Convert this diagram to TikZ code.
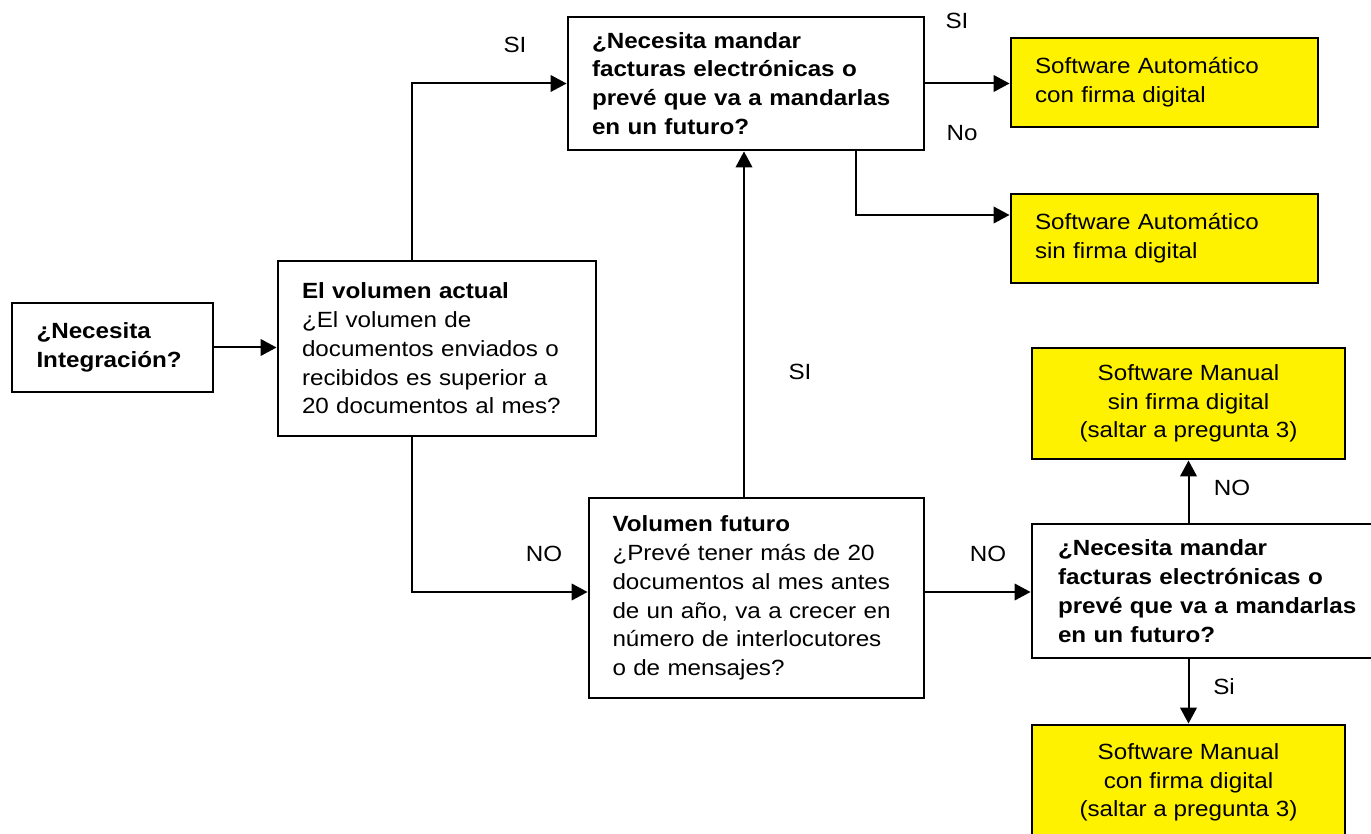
\documentclass[tikz,border=0pt]{standalone}
\usepackage{fontspec}
\setmainfont{Liberation Sans}[FakeStretch=1.1]
\usetikzlibrary{arrows.meta}

\begin{document}
\begin{tikzpicture}[x=0.75pt,y=0.75pt,yscale=-1,xscale=1,
  box/.style={draw,line width=2.2pt,inner sep=0pt,align=left,font=\fontsize{16.5}{21.6}\selectfont},
  qbox/.style={box,font=\fontsize{16.5}{21.6}\selectfont\bfseries},
  res/.style={box,fill=yellow},
  soft/.style={box,fill=yellow,align=center},
  lbl/.style={inner sep=0pt,font=\fontsize{16.5}{20}\selectfont},
  arr/.style={line width=1.5pt,-{Triangle[length=12pt,width=12.5pt]}}]
\useasboundingbox (0,0) rectangle (1371,834);

% columns and rows of the elbow connectors
\coordinate (colB) at (412,0);
\coordinate (colF) at (744,0);
\coordinate (colC) at (856,0);
\coordinate (rowE) at (0,215);
\coordinate (rowF) at (0,592);

\node[qbox,minimum width=150.75pt,minimum height=66.75pt,text width=114pt] (integ) at (112.5,347.5) {¿Necesita\\Integración?};
\node[box,minimum width=238.5pt,minimum height=131.25pt,text width=202.5pt] (vact) at (437,348.5) {\textbf{El volumen actual}\\¿El volumen de\\documentos enviados o\\recibidos es superior a\\20 documentos al mes?};
\node[qbox,minimum width=267pt,minimum height=99.75pt,text width=231pt] (firma1) at (746,83.5) {¿Necesita mandar\\facturas electrónicas o\\prevé que va a mandarlas\\en un futuro?};
\node[res,minimum width=230.25pt,minimum height=66.75pt,text width=194.25pt] (autocon) at (1164.5,82.5) {Software Automático\\con firma digital};
\node[res,minimum width=230.25pt,minimum height=66.75pt,text width=194.25pt] (autosin) at (1164.5,238.5) {Software Automático\\sin firma digital};
\node[box,minimum width=251.25pt,minimum height=150pt,text width=216pt] (vfut) at (756.5,598) {\textbf{Volumen futuro}\\¿Prevé tener más de 20\\documentos al mes antes\\de un año, va a crecer en\\número de interlocutores\\o de mensajes?};
\node[qbox,minimum width=270pt,minimum height=100.5pt,text width=231pt] (firma2) at (1212,591) {¿Necesita mandar\\facturas electrónicas o\\prevé que va a mandarlas\\en un futuro?};
\node[soft,minimum width=234.75pt,minimum height=83.25pt] (mansin) at (1188.5,403.5) {Software Manual\\sin firma digital\\(saltar a pregunta 3)};
\node[soft,minimum width=234.75pt,minimum height=86.25pt] (mancon) at (1188.5,782.5) {Software Manual\\con firma digital\\(saltar a pregunta 3)};

\draw[arr] (integ.east) -- (integ.east -| vact.west);
\draw[arr] (vact.north -| colB) |- (firma1.west);
\draw[arr] (firma1.east) -- (firma1.east -| autocon.west);
\draw[arr] (firma1.south -| colC) |- (autosin.west |- rowE);
\draw[arr] (vact.south -| colB) |- (vfut.west |- rowF);
\draw[arr] (vfut.north -| colF) -- (firma1.south -| colF);
\draw[arr] (vfut.east |- rowF) -- (firma2.west |- rowF);
\draw[arr] (firma2.north -| mansin.south) -- (mansin.south);
\draw[arr] (firma2.south -| mancon.north) -- (mancon.north);

\node[lbl] (si1) at (515,45) {SI};
\node[lbl] (si2) at (957,21) {SI};
\node[lbl] (no1) at (962,133) {No};
\node[lbl] (no2) at (544,554) {NO};
\node[lbl] (si3) at (800,372) {SI};
\node[lbl] (no3) at (988,554) {NO};
\node[lbl] (no4) at (1232,488) {NO};
\node[lbl] (si4) at (1224,687) {Si};

\end{tikzpicture}
\end{document}
